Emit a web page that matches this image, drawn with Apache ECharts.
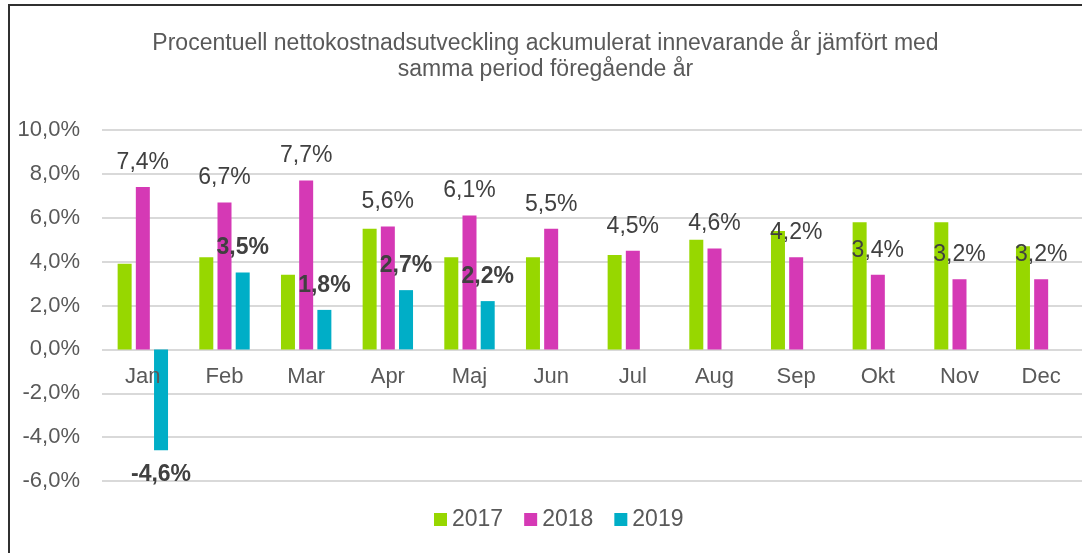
<!DOCTYPE html>
<html>
<head>
<meta charset="utf-8">
<script src="https://cdn.jsdelivr.net/npm/echarts@6/dist/echarts.min.js"></script>
<style>
  html, body { margin: 0; padding: 0; background: #fff; }
  #main { width: 1091px; height: 553px; }
</style>
</head>
<body>
<div id="main"></div>
<script>
var months = ['Jan', 'Feb', 'Mar', 'Apr', 'Maj', 'Jun', 'Jul', 'Aug', 'Sep', 'Okt', 'Nov', 'Dec'];
var years = ['2017', '2018', '2019'];
var values2017 = [3.9, 4.2, 3.4, 5.5, 4.2, 4.2, 4.3, 5.0, 5.4, 5.8, 5.8, 4.7];
var values2018 = [7.4, 6.7, 7.7, 5.6, 6.1, 5.5, 4.5, 4.6, 4.2, 3.4, 3.2, 3.2];
var values2019 = [-4.6, 3.5, 1.8, 2.7, 2.2, null, null, null, null, null, null, null];
var yTicks = [-6, -4, -2, 0, 2, 4, 6, 8, 10];

var chart = echarts.init(document.getElementById('main'));
var fontFam = '"Liberation Sans", Arial, sans-serif';

var gridTop = 130, gridBottom = 72;
var plotH = 553 - gridTop - gridBottom;
var yMin = yTicks[0], yMax = yTicks[yTicks.length - 1];
// move the category axis up to the zero line
var zeroOffset = -plotH * (0 - yMin) / (yMax - yMin);

function pct(v) {
    return v.toFixed(1).replace('.', ',') + '%';
}

// negative bars get their label underneath
function build2019(list) {
    return list.map(function (v) {
        if (v !== null && v < 0) {
            return { value: v, label: { position: 'bottom' } };
        }
        return v;
    });
}

var option = {
    animation: false,
    backgroundColor: '#fff',
    color: ['#97D700', '#D539B5', '#00AEC7'],
    textStyle: { fontFamily: fontFam },
    title: {
        text: 'Procentuell nettokostnadsutveckling ackumulerat innevarande år jämfört med\nsamma period föregående år',
        left: 'center',
        top: 26,
        textStyle: {
            fontFamily: fontFam,
            fontSize: 23,
            fontWeight: 'normal',
            color: '#595959',
            lineHeight: 26
        }
    },
    legend: {
        top: 503,
        left: 429,
        itemWidth: 13,
        itemHeight: 13,
        itemGap: 21,
        icon: 'rect',
        textStyle: { fontSize: 23, color: '#595959', padding: [0, 0, 0, 0] },
        data: years
    },
    graphic: [{
        type: 'polyline',
        shape: { points: [[9, 560], [9, 5], [1082, 5]] },
        style: { fill: 'none', stroke: '#303030', lineWidth: 2 },
        silent: true
    }],
    grid: { left: 102, right: 9, top: gridTop, bottom: gridBottom },
    xAxis: {
        type: 'category',
        data: months,
        offset: zeroOffset,
        z: 5,
        axisLine: { show: false, onZero: false },
        axisTick: { show: false },
        axisLabel: { fontSize: 22, color: '#595959', margin: 17 }
    },
    yAxis: {
        type: 'value',
        min: yMin,
        max: yMax,
        interval: 2,
        axisLine: { show: false },
        axisTick: { show: false },
        axisLabel: {
            fontSize: 22,
            color: '#595959',
            margin: 22,
            formatter: function (v) { return pct(v); }
        },
        splitLine: { lineStyle: { color: '#D9D9D9', width: 2 } }
    },
    series: [
        {
            name: years[0],
            type: 'bar',
            data: values2017,
            barWidth: 14,
            barGap: '30%'
        },
        {
            name: years[1],
            type: 'bar',
            data: values2018,
            barWidth: 14,
            barGap: '30%',
            label: {
                show: true,
                position: 'top',
                distance: 13,
                fontSize: 23,
                color: '#404040',
                formatter: function (p) { return pct(p.value); }
            }
        },
        {
            name: years[2],
            type: 'bar',
            data: build2019(values2019),
            barWidth: 14,
            barGap: '30%',
            label: {
                show: true,
                position: 'top',
                distance: 13,
                fontSize: 23,
                fontWeight: 'bold',
                color: '#404040',
                formatter: function (p) { return pct(p.value); }
            }
        }
    ]
};

chart.setOption(option);
</script>
</body>
</html>
